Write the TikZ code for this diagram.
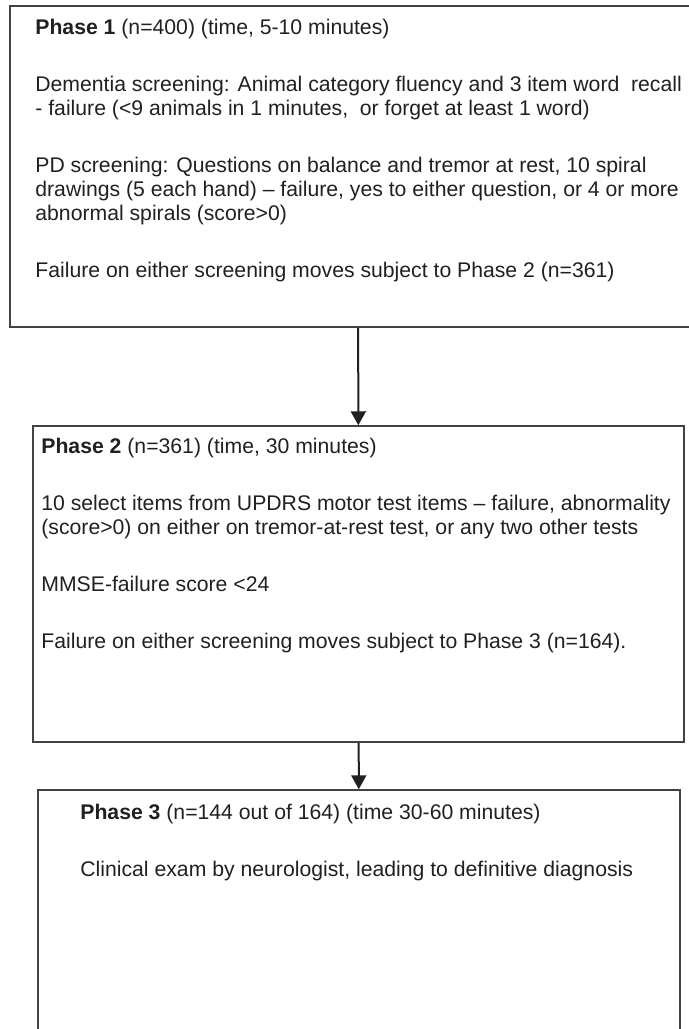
\documentclass[tikz,border=0pt]{standalone}
\usepackage{fontspec}
\setmainfont{Liberation Sans}
\usetikzlibrary{arrows.meta,positioning}
\definecolor{ink}{HTML}{231F20}
\begin{document}
\begin{tikzpicture}[
		x=0.5pt, y=-0.5pt,
		phasebox/.style={draw=ink!85, line width=0.75pt, rectangle, inner sep=0pt},
		phasetext/.style={anchor=north west, inner sep=0pt, align=left, text=ink,
			font=\fontsize{10.6pt}{12pt}\selectfont},
		flow/.style={draw=ink, line width=1pt, -{Triangle[length=7pt,width=7.5pt]}}
	]
		\useasboundingbox (0,0) rectangle (689,1029);
		% boxes (box 1 runs off the right edge, box 3 off the bottom)
		\node[phasebox, minimum width=348pt, minimum height=160.5pt] (p1) at (358,166.5) {};
		\node[phasebox, minimum width=325.5pt, minimum height=158pt] (p2) at (358.5,584) {};
		\node[phasebox, minimum width=321pt, minimum height=155pt] (p3) at (359,945) {};
		% texts
		\node[phasetext] (t1) at (35,19) {\textbf{Phase 1} (n=400) (time, 5-10 minutes)\\[16.5pt]
			Dementia screening: Animal category fluency and 3 item word\ \ recall\\
			- failure (<9 animals in 1 minutes,\ \ or forget at least 1 word)\\[16.5pt]
			PD screening: Questions on balance and tremor at rest, 10 spiral\\
			drawings (5 each hand) -- failure, yes to either question, or 4 or more\\
			abnormal spirals (score>0)\\[16.5pt]
			Failure on either screening moves subject to Phase 2 (n=361)};
		\node[phasetext] (t2) at (41,438) {\textbf{Phase 2} (n=361) (time, 30 minutes)\\[16.5pt]
			10 select items from UPDRS motor test items -- failure, abnormality\\
			(score>0) on either on tremor-at-rest test, or any two other tests\\[16.5pt]
			MMSE-failure score <24\\[16.5pt]
			Failure on either screening moves subject to Phase 3 (n=164).};
		\node[phasetext] (t3) at (80,804) {\textbf{Phase 3} (n=144 out of 164) (time 30-60 minutes)\\[16.5pt]
			Clinical exam by neurologist, leading to definitive diagnosis};
		% arrows
		\draw[flow] (p1) -- (p2);
		\draw[flow] (p2) -- (p3);
	\end{tikzpicture}
\end{document}
